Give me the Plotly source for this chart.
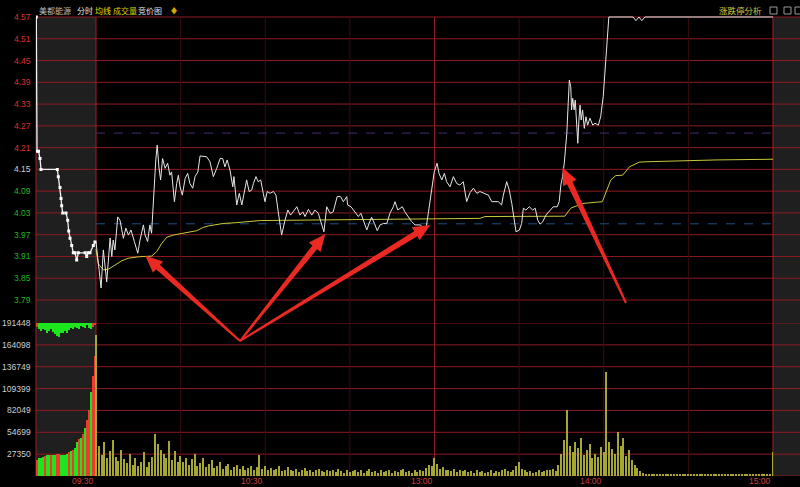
import math
import plotly.graph_objects as go

# ---------------- data ----------------
# main session, minutes after 09:30 (13:00 == 120 on the continuous axis)
price_min = [0, 1.8, 2.6, 3.8, 5.0, 5.6, 6.1, 6.7, 7.7, 8.5, 9.7, 10.6, 11.5, 12.4, 13.6, 14.8, 15.6, 16.8,
             17.4, 18.3, 19.1, 19.7, 21.2, 21.7, 22.3, 22.9, 23.6, 24.5, 25.4, 26.2, 26.8, 27.8, 28.6, 29.2,
             29.8, 30.6, 31.6, 32.5, 33.3, 34.3, 35.1, 36.1, 36.9, 39.2, 40.4, 41.6, 42.8, 44.0, 44.9, 45.7,
             46.5, 47.5, 48.5, 48.9, 49.9, 50.8, 51.7, 52.5, 53.4, 54.3, 55.2, 55.8, 56.7, 57.5, 58.4, 59.3,
             59.9, 60.7, 61.7, 62.9, 63.8, 64.6, 65.8, 67.0, 68.0, 69.0, 69.9, 71.2, 72.3, 73.3, 74.1, 75.3,
             76.5, 77.6, 78.8, 80.0, 80.8, 81.8, 83.0, 84.1, 85.5, 86.7, 87.7, 88.9, 89.2, 90.4, 91.8, 93.0,
             93.9, 94.8, 96.0, 96.8, 97.7, 98.7, 99.7, 100.7, 101.9, 103.1, 104.2, 105.4, 106.0, 107.0, 107.8,
             108.6, 109.5, 110.7, 111.9, 113.1, 114.9, 116.0, 116.9, 117.8, 119.0, 119.9, 120.9, 121.6, 122.6,
             123.5, 124.3, 125.5, 126.7, 127.9, 129.0, 130.2, 131.4, 132.6, 133.8, 135.0, 136.1, 137.9, 139.1,
             140.3, 142.6, 143.8, 144.4, 145.6, 146.5, 147.4, 148.2, 148.9, 150.1, 150.9, 151.5, 152.4, 153.6,
             154.8, 155.7, 156.6, 157.4, 158.4, 159.5, 160.9, 162.1, 163.5, 164.2, 164.8, 165.4, 166.0, 166.6,
             166.9, 167.4, 167.8, 168.3, 168.6, 169.0, 169.5, 169.9, 170.4, 170.8, 171.2, 171.6, 172.0, 172.5,
             173.1, 173.7, 174.3, 175.1, 176.1, 176.9, 178.1, 178.9, 179.8, 180.7, 181.3, 181.8, 190.4, 191.4,
             192.5, 193.5, 194.6, 240]
price_val = [3.950, 3.823, 3.928, 3.840, 3.961, 3.910, 3.955, 3.928, 4.019, 4.010, 3.960, 3.988, 3.969, 3.983,
             3.951, 3.919, 3.955, 3.997, 3.969, 3.951, 3.997, 3.974, 4.176, 4.217, 4.157, 4.121, 4.180, 4.153,
             4.167, 4.134, 4.143, 4.061, 4.111, 4.134, 4.102, 4.079, 4.125, 4.139, 4.111, 4.098, 4.130, 4.143,
             4.187, 4.185, 4.171, 4.130, 4.153, 4.180, 4.180, 4.157, 4.176, 4.148, 4.102, 4.130, 4.052, 4.084,
             4.052, 4.089, 4.121, 4.089, 4.093, 4.111, 4.130, 4.116, 4.121, 4.084, 4.061, 4.089, 4.084, 4.089,
             4.079, 4.033, 3.969, 4.010, 4.038, 4.024, 4.033, 4.047, 4.024, 4.033, 4.020, 4.040, 4.024, 4.038,
             4.029, 4.001, 3.978, 4.047, 4.029, 4.033, 4.075, 4.075, 4.061, 4.075, 4.052, 4.047, 4.033, 4.020,
             4.029, 4.010, 3.983, 4.001, 4.018, 4.001, 3.981, 3.997, 4.001, 4.001, 4.029, 4.047, 4.061, 4.038,
             4.043, 4.047, 4.033, 4.020, 4.006, 3.997, 3.997, 3.990, 3.981, 4.029, 4.093, 4.143, 4.167, 4.139,
             4.121, 4.139, 4.116, 4.102, 4.130, 4.111, 4.107, 4.116, 4.061, 4.086, 4.098, 4.084, 4.089, 4.084,
             4.079, 4.061, 4.061, 4.052, 4.079, 4.116, 4.093, 4.056, 4.010, 3.978, 3.983, 4.001, 4.043, 4.038,
             4.047, 4.038, 4.043, 4.010, 3.999, 4.006, 4.024, 4.038, 4.047, 4.047, 4.061, 4.107, 4.130, 4.167,
             4.213, 4.249, 4.332, 4.396, 4.378, 4.314, 4.346, 4.314, 4.341, 4.277, 4.222, 4.286, 4.327, 4.286,
             4.314, 4.263, 4.295, 4.272, 4.291, 4.272, 4.277, 4.272, 4.295, 4.350, 4.451, 4.534, 4.570, 4.570,
             4.560, 4.570, 4.560, 4.570, 4.570]

avg_min = [0, 0.8, 2.6, 4.4, 6.7, 9.1, 11.4, 15.0, 19.7, 21.5, 23.3, 25.1, 27.4, 32.7, 35.7, 38.0, 39.8, 45.1,
           49.6, 58.2, 72.3, 88.3, 114.2, 120, 136.1, 137.9, 166.2, 168.3, 172.4, 179.5, 180.7, 182.5, 184.3,
           186.7, 189.1, 192.6, 195.0, 204.4, 219.8, 240]
avg_val = [3.930, 3.890, 3.873, 3.875, 3.886, 3.898, 3.905, 3.909, 3.911, 3.923, 3.946, 3.963, 3.969, 3.978,
           3.981, 3.990, 3.994, 4.001, 4.003, 4.009, 4.010, 4.012, 4.013, 4.015, 4.015, 4.020, 4.021, 4.043,
           4.056, 4.061, 4.084, 4.121, 4.133, 4.134, 4.157, 4.170, 4.171, 4.173, 4.176, 4.178]

# call auction 09:15-09:25, minutes after 09:15
auction_min = [0.05, 0.17, 0.42, 0.67, 0.83, 3.55, 3.72, 4.0, 4.17, 4.28, 4.45, 5.0, 5.28, 5.45, 5.67, 5.95,
               6.22, 6.5, 6.78, 7.05, 8.17, 8.45, 8.67, 9.0, 9.55, 9.83]
auction_val = [4.57, 4.20, 4.20, 4.18, 4.15, 4.15, 4.13, 4.10, 4.07, 4.05, 4.03, 4.03, 4.01, 3.98, 3.96, 3.94,
               3.92, 3.92, 3.90, 3.92, 3.92, 3.91, 3.92, 3.92, 3.94, 3.95]
auction_vol = [20000, 22000, 23000, 24000, 25000, 26000, 26000, 26000, 26000, 26500, 27000, 27000, 26000,
               26000, 26500, 27000, 30000, 31000, 33000, 35000, 42000, 46000, 48000, 52000, 60000, 70000,
               82000, 105000, 125000, 150000]
auction_side = "rgggrggrggrrggggrgrggrgrgrrgrr"
auction_unmatched = [5000, 8000, 10000, 7000, 9000, 12000, 10000, 8000, 11000, 14000, 16000, 17000, 13000,
                     12000, 10000, 13000, 9000, 6000, 7000, 5000, 6000, 7000, 4000, 5000, 6000, 3000, 6000,
                     8000, 5000, 2000]

vol_main = [176000,
            38000, 26000, 42000, 22000, 31000, 45000, 24000, 19000, 33000, 21000,
            16000, 28000, 14000, 22000, 12000, 18000, 30000, 11000, 17000, 24000,
            52000, 40000, 33000, 27000, 22000, 44000, 20000, 31000, 18000, 25000,
            17000, 23000, 14000, 21000, 28000, 13000, 16000, 22000, 11000, 15000,
            20000, 10000, 13000, 17000, 9000, 12000, 15000, 8000, 11000, 14000,
            9000, 12000, 7000, 10000, 13000, 8000, 11000, 26000, 9000, 12000,
            8000, 10000, 7000, 9000, 13000, 6000, 8000, 11000, 7000, 6000,
            9000, 5000, 7000, 10000, 6000, 8000, 5000, 7000, 9000, 6000,
            5000, 8000, 6000, 7000, 5000, 9000, 6000, 4000, 7000, 5000,
            6000, 8000, 5000, 7000, 4000, 6000, 9000, 5000, 6000, 4000,
            7000, 5000, 6000, 8000, 4000, 6000, 5000, 7000, 9000, 5000,
            6000, 4000, 7000, 5000, 8000, 6000, 10000, 14000, 12000, 22000,
            15000, 9000, 11000, 7000, 8000, 6000, 9000, 5000, 7000, 6000,
            8000, 5000, 6000, 4000, 7000, 5000, 6000, 4000, 5000, 7000,
            4000, 6000, 5000, 7000, 9000, 6000, 5000, 8000, 12000, 18000,
            9000, 7000, 5000, 6000, 4000, 5000, 7000, 5000, 6000, 8000,
            7000, 9000, 6000, 14000, 28000, 45000, 82000, 38000, 30000, 42000,
            35000, 48000, 26000, 32000, 40000, 22000, 28000, 24000, 36000, 30000,
            130000, 42000, 34000, 28000, 55000, 38000, 48000, 25000, 32000, 20000,
            14000, 10000, 6000, 4000, 3000, 3000, 2000, 3000, 2000, 2000,
            2000, 3000, 2000, 2000, 3000, 2000, 2000, 2000, 3000, 2000,
            2000, 2000, 3000, 2000, 2000, 2000, 3000, 2000, 2000, 2000,
            3000, 2000, 2000, 2000, 3000, 2000, 2000, 2000, 2000, 3000,
            2000, 2000, 2000, 3000, 2000, 2000, 2000, 2000, 3000, 30000]

price_ticks = [4.57, 4.51, 4.45, 4.39, 4.33, 4.27, 4.21, 4.15, 4.09, 4.03, 3.97, 3.91, 3.85, 3.79]
prev_close = 4.15
vol_ticks = [191448, 164098, 136749, 109399, 82049, 54699, 27350]
time_ticks = [0, 60, 120, 180, 240]
time_labels = ["09:30", "10:30", "13:00", "14:00", "15:00"]
ref_lines = [(4.00, "#1f4f80"), (4.25, "#4b2a6e")]
arrow_targets = [(17.5, 3.912), (81.3, 3.972), (118.5, 3.997), (165.4, 4.155)]

# ---------------- geometry ----------------
W, H = 800, 487
X0, XOPEN, X1 = 36, 96, 773          # pixel columns: auction start, 09:30, 15:00
PX_PER_MIN = (X1 - XOPEN) / 240.0
AUCTION_UNITS = (XOPEN - X0) / PX_PER_MIN
P_TOP_Y, P_BOT_Y = 17, 300           # pixel rows of 4.57 and 3.79
V_TOP_Y, V_BOT_Y = 323, 476

def py(y):
    return 1 - y / H

def px(x):
    return x / W

pmax, pmin = max(price_ticks), min(price_ticks)
ppx = (P_BOT_Y - P_TOP_Y) / (pmax - pmin)
pad = 0.015
p_range = [pmin - pad, pmax + pad]
p_dom = [py(P_BOT_Y + pad * ppx), py(P_TOP_Y - pad * ppx)]
vmax = max(vol_ticks)

def auction_axis(t):
    return -AUCTION_UNITS + t * AUCTION_UNITS / 10.0

RED_GRID = "#8e1b20"
DIM_GRID = "#3b0d0f"

fig = go.Figure()

# auction matched volume
n_a = len(auction_vol)
a_x = [auction_axis((i + 0.5) * 10.0 / n_a) for i in range(n_a)]
a_col = ["#f03a2e" if c == "r" else "#1ee61e" for c in auction_side]
fig.add_trace(go.Bar(x=a_x, y=auction_vol, width=AUCTION_UNITS / n_a, marker=dict(color=a_col, line_width=0),
                     xaxis="x", yaxis="y2", hoverinfo="skip"))
top_col = ["#f03a2e" if i in (0, n_a - 1, n_a - 2) else "#1ee61e" for i in range(n_a)]
fig.add_trace(go.Bar(x=a_x, y=[-v for v in auction_unmatched], base=vmax, width=AUCTION_UNITS / n_a,
                     marker=dict(color=top_col, line_width=0), xaxis="x", yaxis="y2", hoverinfo="skip"))
# main session volume
fig.add_trace(go.Bar(x=list(range(len(vol_main))), y=vol_main, width=0.45,
                     marker=dict(color="#a6a634", line_width=0), xaxis="x", yaxis="y2", hoverinfo="skip"))

# auction price line
fig.add_trace(go.Scatter(x=[auction_axis(t) for t in auction_min], y=auction_val, mode="lines+markers",
                         line=dict(color="#f2f2f2", width=1.3), marker=dict(symbol="square", size=3, color="#ffffff"),
                         xaxis="x", yaxis="y", hoverinfo="skip"))
# average line
fig.add_trace(go.Scatter(x=avg_min, y=avg_val, mode="lines", line=dict(color="#c9c83a", width=1),
                         xaxis="x", yaxis="y", hoverinfo="skip"))
# price line
fig.add_trace(go.Scatter(x=price_min, y=price_val, mode="lines", line=dict(color="#e6e6e6", width=1),
                         xaxis="x", yaxis="y", hoverinfo="skip"))

shapes = []
# gray panels
for x0, x1 in [(X0, XOPEN), (X1, W)]:
    shapes.append(dict(type="rect", xref="paper", yref="paper", x0=px(x0), x1=px(x1), y0=py(V_BOT_Y), y1=py(P_TOP_Y),
                       fillcolor="#1f1f1f", line_width=0, layer="below"))
# horizontal grid
for t in price_ticks:
    shapes.append(dict(type="line", xref="paper", yref="y", x0=px(X0), x1=1, y0=t, y1=t,
                       line=dict(color=RED_GRID, width=1), layer="below"))
for v in vol_ticks + [0]:
    shapes.append(dict(type="line", xref="paper", yref="y2", x0=px(X0), x1=1, y0=v, y1=v,
                       line=dict(color=RED_GRID, width=1), layer="below"))
# vertical grid
for m in range(30, 240, 30):
    shapes.append(dict(type="line", xref="x", yref="paper", x0=m, x1=m, y0=py(V_BOT_Y), y1=py(P_TOP_Y),
                       line=dict(color=RED_GRID if m == 120 else DIM_GRID, width=1), layer="below"))
for xpix in (X0, XOPEN, X1):
    shapes.append(dict(type="line", xref="paper", yref="paper", x0=px(xpix), x1=px(xpix), y0=py(V_BOT_Y),
                       y1=py(P_TOP_Y), line=dict(color="#a01e22", width=1), layer="below"))
# dashed reference lines
for val, col in ref_lines:
    shapes.append(dict(type="line", xref="x", yref="y", x0=0, x1=240, y0=val, y1=val,
                       line=dict(color=col, width=1, dash="dash"), layer="below"))

# red arrows (drawn as tapered polygons)
def to_pix(m, p):
    return XOPEN + m * PX_PER_MIN, P_TOP_Y + (pmax - p) * ppx

def arrow_path(hx, hy, tx, ty, head_len=17, head_w=7.5, shaft_head=3.0, shaft_tail=1.0):
    dx, dy = hx - tx, hy - ty
    L = math.hypot(dx, dy)
    ux, uy = dx / L, dy / L
    nx, ny = -uy, ux
    bx, by = hx - ux * head_len, hy - uy * head_len
    pts = [(tx + nx * shaft_tail, ty + ny * shaft_tail), (bx + nx * shaft_head, by + ny * shaft_head),
           (bx + nx * head_w, by + ny * head_w), (hx, hy), (bx - nx * head_w, by - ny * head_w),
           (bx - nx * shaft_head, by - ny * shaft_head), (tx - nx * shaft_tail, ty - ny * shaft_tail)]
    return "M " + " L ".join(f"{px(x):.5f},{py(y):.5f}" for x, y in pts) + " Z"

tails = [(240, 341), (240, 341), (240, 341), (626, 303)]
for (m, p), (tx, ty) in zip(arrow_targets, tails):
    hx, hy = to_pix(m, p)
    shapes.append(dict(type="path", xref="paper", yref="paper", path=arrow_path(hx, hy, tx, ty),
                       fillcolor="#ea2a22", line=dict(width=0), layer="above"))

ann = []
FONT = "Liberation Sans"
for t in price_ticks:
    col = "#d83030" if t > prev_close + 1e-9 else ("#d0d0d0" if abs(t - prev_close) < 1e-9 else "#22b522")
    ann.append(dict(text=f"{t:.2f}", xref="paper", yref="y", x=px(33), y=t, xanchor="right", yanchor="middle",
                    showarrow=False, font=dict(family=FONT, size=8.5, color=col)))
for v in vol_ticks:
    ann.append(dict(text=str(v), xref="paper", yref="y2", x=px(33), y=v, xanchor="right", yanchor="middle",
                    showarrow=False, font=dict(family=FONT, size=8.5, color="#cfcfcf")))
for m, lab in zip(time_ticks, time_labels):
    ann.append(dict(text=lab, xref="x", yref="paper", x=m, y=py(481), xanchor="right", yanchor="middle",
                    showarrow=False, font=dict(family=FONT, size=8.5, color="#c84040")))
header = [("美都能源", 37, "#bdbdbd"), ("分时", 75, "#e8e8e8"), ("均线", 93, "#e8e000"), ("成交量", 111, "#d4d000"),
          ("竞价图", 136, "#e0e0e0"), ("♦", 168, "#d8a800")]
for txt, xx, col in header:
    ann.append(dict(text=txt, xref="paper", yref="paper", x=px(xx), y=py(10.5), xanchor="left", yanchor="middle",
                    showarrow=False, font=dict(family="Noto Sans CJK SC", size=8, color=col)))
ann.append(dict(text="涨跌停分析", xref="paper", yref="paper", x=px(764), y=py(10.5), xanchor="right",
                yanchor="middle", showarrow=False, font=dict(family="Noto Sans CJK SC", size=8.5, color="#c8c84a")))
for xx in (770, 784, 795):
    shapes.append(dict(type="rect", xref="paper", yref="paper", x0=px(xx), x1=px(xx + 7), y0=py(14), y1=py(7),
                       line=dict(color="#9a9a9a", width=1), fillcolor="rgba(0,0,0,0)"))

fig.update_layout(
    width=W, height=H, margin=dict(l=0, r=0, t=0, b=0),
    paper_bgcolor="#000000", plot_bgcolor="#000000",
    showlegend=False, barmode="overlay", bargap=0,
    xaxis=dict(domain=[px(X0), px(X1)], range=[-AUCTION_UNITS, 240], visible=False, fixedrange=True),
    yaxis=dict(domain=p_dom, range=p_range, visible=False, fixedrange=True),
    yaxis2=dict(domain=[py(V_BOT_Y), py(V_TOP_Y)], range=[0, vmax], visible=False, fixedrange=True),
    shapes=shapes, annotations=ann,
)
fig.write_html("out.html", config={"displayModeBar": False},
               post_script="document.body.style.margin='0px';document.body.style.background='#000';")
